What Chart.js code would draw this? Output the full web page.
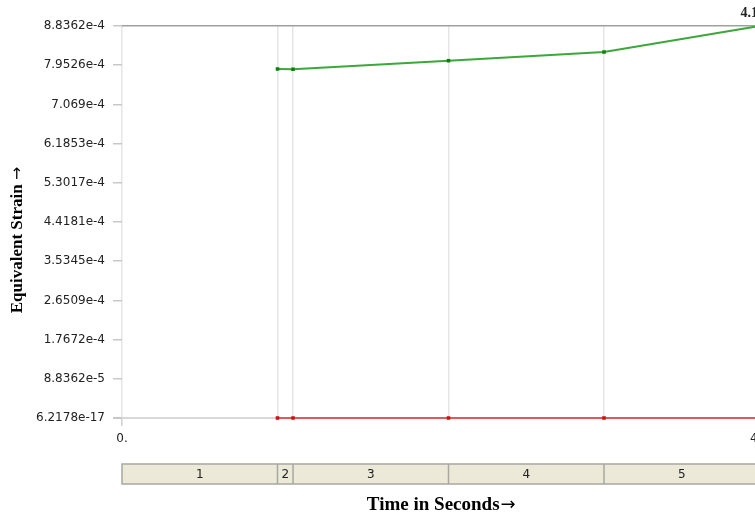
<!DOCTYPE html>
<html>
<head>
<meta charset="utf-8">
<script src="https://cdn.jsdelivr.net/npm/chart.js@4"></script>
<style>
  html, body { margin: 0; padding: 0; background: #fff; overflow: hidden; }
  #wrap { width: 775px; height: 516px; position: relative; }
</style>
</head>
<body>
<div id="wrap"><canvas id="strainChart"></canvas></div>
<script>
// time of each result point (s)
const timePoints = [1, 1.1, 2.1, 3.1, 4.1];
// maximum and minimum equivalent strain
const maxStrain = [7.867e-4, 7.862e-4, 8.054e-4, 8.250e-4, 8.8362e-4];
const minStrain = [6.2178e-17, 6.2178e-17, 6.2178e-17, 6.2178e-17, 6.2178e-17];

// load step boundaries and their numbers
const stepBounds = [0, 1, 1.1, 2.1, 3.1, 4.1];
const stepLabels = ['1', '2', '3', '4', '5'];

const yMin = 0;
const yMax = 8.8362e-4;
const yTickLabels = [
  '6.2178e-17', '8.8362e-5', '1.7672e-4', '2.6509e-4', '3.5345e-4', '4.4181e-4',
  '5.3017e-4', '6.1853e-4', '7.069e-4', '7.9526e-4', '8.8362e-4'
];

const tickFont = { family: 'DejaVu Sans, Tahoma, sans-serif', size: 12 };

// step strip, axis titles and the max label on top
const extrasPlugin = {
  id: 'extras',
  afterDraw(chart) {
    const ctx = chart.ctx;
    const xs = chart.scales.x;
    const area = chart.chartArea;
    const top = 464, h = 20;

    ctx.save();
    const x0 = xs.getPixelForValue(stepBounds[0]);
    const x1 = xs.getPixelForValue(stepBounds[stepBounds.length - 1]);
    ctx.fillStyle = '#ece9d8';
    ctx.fillRect(x0, top, x1 - x0, h);
    ctx.strokeStyle = '#a8a8a0';
    ctx.lineWidth = 1.5;
    ctx.strokeRect(x0, top, x1 - x0, h);
    ctx.font = '12px "DejaVu Sans", Tahoma, sans-serif';
    ctx.fillStyle = '#222';
    ctx.textAlign = 'center';
    ctx.textBaseline = 'middle';
    for (let i = 0; i < stepLabels.length; i++) {
      const a = xs.getPixelForValue(stepBounds[i]);
      const b = xs.getPixelForValue(stepBounds[i + 1]);
      if (i > 0) {
        ctx.beginPath();
        ctx.moveTo(a, top);
        ctx.lineTo(a, top + h);
        ctx.stroke();
      }
      ctx.fillText(stepLabels[i], (a + b) / 2, top + h / 2 + 1);
    }

    // x title, arrow drawn in a font that has it
    ctx.fillStyle = '#000';
    ctx.textAlign = 'left';
    ctx.font = 'bold 19px "Liberation Serif", serif';
    const xt = 'Time in Seconds';
    const w1 = ctx.measureText(xt).width;
    ctx.font = '18px "DejaVu Sans", sans-serif';
    const w2 = ctx.measureText('\u2192').width;
    let sx = (area.left + area.right) / 2 - (w1 + w2) / 2;
    ctx.font = 'bold 19px "Liberation Serif", serif';
    ctx.fillText(xt, sx, 505);
    ctx.font = '18px "DejaVu Sans", sans-serif';
    ctx.fillText('\u2192', sx + w1 + 1, 505);

    // y title
    ctx.translate(18, 240);
    ctx.rotate(-Math.PI / 2);
    ctx.font = 'bold 17px "Liberation Serif", serif';
    const yt = 'Equivalent Strain ';
    const v1 = ctx.measureText(yt).width;
    ctx.font = '16px "DejaVu Sans", sans-serif';
    const v2 = ctx.measureText('\u2192').width;
    sx = -(v1 + v2) / 2;
    ctx.font = 'bold 17px "Liberation Serif", serif';
    ctx.fillText(yt, sx, 0);
    ctx.font = '16px "DejaVu Sans", sans-serif';
    ctx.fillText('\u2192', sx + v1, 0);
    ctx.restore();

    // max time label above the last point
    ctx.save();
    ctx.font = 'bold 14px "Liberation Serif", serif';
    ctx.fillStyle = '#222';
    ctx.textAlign = 'left';
    ctx.textBaseline = 'middle';
    const last = timePoints[timePoints.length - 1];
    ctx.fillText(String(last), xs.getPixelForValue(last) - 19, area.top - 13);
    ctx.restore();
  }
};

new Chart(document.getElementById('strainChart'), {
  type: 'line',
  data: {
    datasets: [
      {
        label: 'Maximum',
        data: timePoints.map((t, i) => ({ x: t, y: maxStrain[i] })),
        borderColor: '#3aa83a',
        backgroundColor: '#0f800f',
        borderWidth: 2,
        pointStyle: 'rect',
        pointRadius: 2.5,
        pointBorderWidth: 0,
        tension: 0,
        clip: false
      },
      {
        label: 'Minimum',
        data: timePoints.map((t, i) => ({ x: t, y: minStrain[i] })),
        borderColor: '#e05a5a',
        backgroundColor: '#cc1111',
        borderWidth: 2,
        pointStyle: 'rect',
        pointRadius: 2.5,
        pointBorderWidth: 0,
        tension: 0,
        clip: false
      }
    ]
  },
  options: {
    responsive: true,
    maintainAspectRatio: false,
    animation: false,
    layout: { padding: { top: 26, right: 14, left: 0, bottom: 0 } },
    plugins: {
      legend: { display: false },
      tooltip: { enabled: false }
    },
    scales: {
      x: {
        type: 'linear',
        min: stepBounds[0],
        max: stepBounds[stepBounds.length - 1],
        afterBuildTicks: (scale) => {
          scale.ticks = stepBounds.map(v => ({ value: v }));
        },
        afterFit: (scale) => { scale.height = 98; },
        border: { display: false },
        grid: {
          color: '#e6e6e6',
          lineWidth: 1.5,
          tickLength: 8,
          tickColor: (c) => c.tick && c.tick.value === 0 ? '#d0d0d0' : 'rgba(0,0,0,0)'
        },
        ticks: {
          font: tickFont,
          color: '#222',
          maxRotation: 0,
          autoSkip: false,
          padding: 6,
          callback: (v) => v === 0 ? '0.' : (v === stepBounds[stepBounds.length - 1] ? String(v) : '')
        }
      },
      y: {
        min: yMin,
        max: yMax,
        afterBuildTicks: (scale) => {
          scale.ticks = yTickLabels.map((_, i) => ({ value: yMin + i * (yMax - yMin) / 10 }));
        },
        afterFit: (scale) => { scale.width = 122; },
        border: { display: false },
        grid: {
          tickLength: 9,
          lineWidth: (c) => c.index === 0 ? 2 : 1.5,
          color: (c) => {
            if (c.index === yTickLabels.length - 1) return '#a0a0a0';
            if (c.index === 0) return '#d8d8d8';
            return 'rgba(0,0,0,0)';
          },
          tickColor: '#c8c8c8'
        },
        ticks: {
          font: tickFont,
          color: '#222',
          padding: 8,
          callback: (v, i) => yTickLabels[i]
        }
      }
    }
  },
  plugins: [extrasPlugin]
});
</script>
</body>
</html>
